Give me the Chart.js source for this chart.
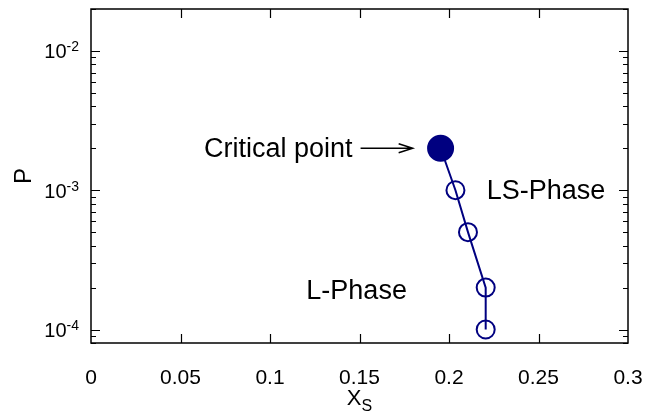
<!DOCTYPE html>
<html>
<head>
<meta charset="utf-8">
<script src="https://cdn.jsdelivr.net/npm/chart.js@4"></script>
<style>
  html, body { margin: 0; padding: 0; background: #fff; }
  #wrap { width: 660px; height: 416px; }
</style>
</head>
<body>
<div id="wrap"><canvas id="phaseChart" width="660" height="416"></canvas></div>
<script>
// data
const xsValues = [0.1953, 0.2036, 0.2106, 0.2205, 0.2205];
const pValues = [2e-3, 1e-3, 5e-4, 2e-4, 1e-4];
const xTicks = [0, 0.05, 0.1, 0.15, 0.2, 0.25, 0.3];
const xTickLabels = ['0', '0.05', '0.1', '0.15', '0.2', '0.25', '0.3'];
const yDecades = [-4, -3, -2];

const NAVY = '#000080';
const FONT = '"Liberation Sans", Arial, sans-serif';

// text notes, anchored in data space
const notes = [
    { text: 'Critical point', x: 0.1506, y: 2e-3, align: 'right', gap: 8 },
    { text: 'LS-Phase', x: 0.2211, y: 1e-3, align: 'left', gap: 0 },
    { text: 'L-Phase', x: 0.1203, y: 1.9e-4, align: 'left', gap: 0 }
];
const arrow = { x0: 0.1506, x1: 0.1797, y: 2e-3 };

const frameAndLabels = {
    id: 'frameAndLabels',
    afterDraw(chart) {
        const ctx = chart.ctx;
        const area = chart.chartArea;
        const xs = chart.scales.x;
        const ys = chart.scales.y;
        ctx.save();
        ctx.strokeStyle = '#000';
        ctx.fillStyle = '#000';

        // frame
        ctx.lineWidth = 1.5;
        ctx.strokeRect(area.left, area.top, area.right - area.left, area.bottom - area.top);

        // inward ticks
        ctx.lineWidth = 1.2;
        ctx.beginPath();
        xTicks.forEach(v => {
            const px = Math.round(xs.getPixelForValue(v)) + 0.5;
            if (px <= area.left + 1 || px >= area.right - 1) return;
            ctx.moveTo(px, area.bottom); ctx.lineTo(px, area.bottom - 9);
            ctx.moveTo(px, area.top); ctx.lineTo(px, area.top + 9);
        });
        for (let d = -5; d <= -1; d++) {
            for (let k = 1; k <= 9; k++) {
                const v = k * Math.pow(10, d);
                if (v < ys.min || v > ys.max) continue;
                const py = Math.round(ys.getPixelForValue(v)) + 0.5;
                const len = k === 1 ? 9 : 5;
                ctx.moveTo(area.left, py); ctx.lineTo(area.left + len, py);
                ctx.moveTo(area.right, py); ctx.lineTo(area.right - len, py);
            }
        }
        ctx.stroke();

        // x tick labels
        ctx.font = '21px ' + FONT;
        ctx.textAlign = 'center';
        ctx.textBaseline = 'alphabetic';
        xTicks.forEach((v, i) => {
            ctx.fillText(xTickLabels[i], xs.getPixelForValue(v), area.bottom + 41);
        });

        // y tick labels 10^n
        yDecades.forEach(d => {
            const py = ys.getPixelForValue(Math.pow(10, d));
            const sup = String(d);
            ctx.font = '14px ' + FONT;
            const supW = ctx.measureText(sup).width;
            ctx.font = '20px ' + FONT;
            const baseW = ctx.measureText('10').width;
            const right = area.left - 12;
            ctx.textAlign = 'left';
            ctx.fillText('10', right - supW - baseW, py + 7.5);
            ctx.font = '14px ' + FONT;
            ctx.fillText(sup, right - supW, py + 0.5);
        });

        // axis titles
        ctx.font = '24px ' + FONT;
        ctx.textAlign = 'center';
        ctx.textBaseline = 'middle';
        ctx.save();
        ctx.translate(24, (area.top + area.bottom) / 2);
        ctx.rotate(-Math.PI / 2);
        ctx.fillText('P', 0, 0);
        ctx.restore();

        ctx.textBaseline = 'alphabetic';
        ctx.textAlign = 'left';
        ctx.font = '22px ' + FONT;
        const xMid = (area.left + area.right) / 2;
        const xW = ctx.measureText('X').width;
        ctx.font = '16px ' + FONT;
        const sW = ctx.measureText('S').width;
        const startX = xMid - (xW + sW) / 2;
        ctx.font = '22px ' + FONT;
        ctx.fillText('X', startX, 405);
        ctx.font = '16px ' + FONT;
        ctx.fillText('S', startX + xW, 411);

        // notes
        ctx.font = '27px ' + FONT;
        ctx.textBaseline = 'middle';
        notes.forEach(n => {
            ctx.textAlign = n.align;
            const px = xs.getPixelForValue(n.x) + (n.align === 'right' ? -n.gap : n.gap);
            ctx.fillText(n.text, px, ys.getPixelForValue(n.y) + 1);
        });

        // arrow
        const ax0 = xs.getPixelForValue(arrow.x0);
        const ax1 = xs.getPixelForValue(arrow.x1);
        const ay = ys.getPixelForValue(arrow.y);
        ctx.lineWidth = 1.5;
        ctx.beginPath();
        ctx.moveTo(ax0, ay); ctx.lineTo(ax1, ay);
        ctx.moveTo(ax1 - 14, ay - 4.5); ctx.lineTo(ax1, ay); ctx.lineTo(ax1 - 14, ay + 4.5);
        ctx.stroke();

        ctx.restore();
    }
};

new Chart(document.getElementById('phaseChart'), {
    type: 'scatter',
    data: {
        datasets: [{
            data: xsValues.map((x, i) => ({ x: x, y: pValues[i] })),
            showLine: true,
            borderColor: NAVY,
            borderWidth: 2,
            pointBorderColor: NAVY,
            pointBorderWidth: 2,
            pointBackgroundColor: [NAVY, 'transparent', 'transparent', 'transparent', 'transparent'],
            pointRadius: [12.5, 9, 9, 9, 9]
        }]
    },
    options: {
        responsive: false,
        animation: false,
        events: [],
        layout: { autoPadding: false, padding: { top: 9, right: 32, left: 0, bottom: 0 } },
        plugins: {
            legend: { display: false },
            tooltip: { enabled: false }
        },
        scales: {
            x: {
                type: 'linear',
                min: 0,
                max: 0.3,
                grid: { display: false },
                border: { display: false },
                ticks: { display: false },
                afterFit: (s) => { s.height = 73; }
            },
            y: {
                type: 'logarithmic',
                min: 8e-5,
                max: 2e-2,
                grid: { display: false },
                border: { display: false },
                ticks: { display: false },
                afterFit: (s) => { s.width = 91; }
            }
        }
    },
    plugins: [frameAndLabels]
});
</script>
</body>
</html>
